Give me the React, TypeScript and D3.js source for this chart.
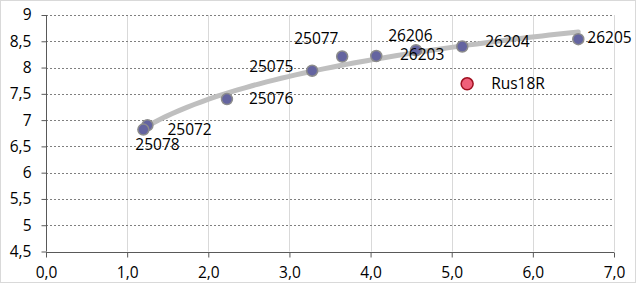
import {useEffect, useRef} from 'react';
import * as d3 from 'd3';

const labels = ['25072', '25078', '25076', '25075', '25077', '26206', '26203', '26204', '26205'];
const xValues = [1.25, 1.2, 2.23, 3.28, 3.65, 4.07, 4.56, 5.13, 6.56];
const yValues = [6.9, 6.82, 7.4, 7.94, 8.21, 8.22, 8.33, 8.4, 8.54];
// label offsets in px, relative to the point
const labelDx = [20, -8, 22, -63, -48, 12, -16, 23, 9];
const labelDy = [5, 16, 1, -3, -17, -19, 6, -4, 0];

const outlierLabel = 'Rus18R';
const outlierX = 5.19;
const outlierY = 7.69;

const xTicks = [0, 1, 2, 3, 4, 5, 6, 7];
const yTicks = [4.5, 5, 5.5, 6, 6.5, 7, 7.5, 8, 8.5, 9];

const W = 636;
const H = 283;
const FONT = '"Open Sans", sans-serif';
const FS = '15.5px';

export default function App() {
  const svgRef = useRef<SVGSVGElement>(null);

  useEffect(() => {
    if (!svgRef.current) return;
    const svg = d3.select(svgRef.current);
    svg.selectAll('*').remove();

    const x = d3.scaleLinear().domain([0, 7]).range([46, 614]);
    const y = d3.scaleLinear().domain([4.5, 9]).range([251.5, 15]);

    svg.append('rect').attr('width', W).attr('height', H).attr('fill', '#fff');
    svg
      .append('rect')
      .attr('x', 0.5)
      .attr('y', 0.5)
      .attr('width', W - 1)
      .attr('height', H - 1)
      .attr('fill', 'none')
      .attr('stroke', '#d9d9d9');

    // vertical grid
    svg
      .append('g')
      .selectAll('line')
      .data(xTicks.slice(1))
      .join('line')
      .attr('x1', (d) => Math.round(x(d)) + 0.5)
      .attr('x2', (d) => Math.round(x(d)) + 0.5)
      .attr('y1', y(9))
      .attr('y2', y(4.5))
      .attr('stroke', '#d9d9d9')
      .attr('stroke-width', 1);

    // horizontal dashed grid
    svg
      .append('g')
      .selectAll('line')
      .data(yTicks.slice(1))
      .join('line')
      .attr('x1', x(0))
      .attr('x2', x(7))
      .attr('y1', (d) => Math.round(y(d)) + 0.5)
      .attr('y2', (d) => Math.round(y(d)) + 0.5)
      .attr('stroke', '#7f7f7f')
      .attr('stroke-width', 1)
      .attr('stroke-dasharray', '2,2');

    // y axis
    const yAxis = svg
      .append('g')
      .attr('transform', `translate(${Math.round(x(0)) + 0.5},0)`)
      .call(
        d3
          .axisLeft(y)
          .tickValues(yTicks)
          .tickSize(5)
          .tickPadding(10)
          .tickFormat((d) => String(d).replace('.', ',')),
      );
    yAxis.select('.domain').attr('stroke', '#595959').attr('d', `M0,${y(9)}V${y(4.5)}`);
    yAxis.selectAll('.tick line').attr('stroke', '#595959');
    yAxis
      .selectAll('.tick text')
      .attr('fill', '#000')
      .style('font-family', FONT)
      .style('font-size', FS);

    // x axis
    const xAxis = svg
      .append('g')
      .attr('transform', `translate(0,${Math.round(y(4.5)) + 0.5})`)
      .call(
        d3
          .axisBottom(x)
          .tickValues(xTicks)
          .tickSize(5)
          .tickPadding(9)
          .tickFormat((d) => (d as number).toFixed(1).replace('.', ',')),
      );
    xAxis.select('.domain').attr('stroke', '#595959').attr('d', `M${x(0)},0H${x(7)}`);
    xAxis.selectAll('.tick line').attr('stroke', '#595959');
    xAxis
      .selectAll('.tick text')
      .attr('fill', '#000')
      .style('font-family', FONT)
      .style('font-size', FS);

    // logarithmic trend line (least squares on ln x)
    const lx = xValues.map((v) => Math.log(v));
    const mx = d3.mean(lx)!;
    const my = d3.mean(yValues)!;
    const b =
      d3.sum(lx, (v, i) => (v - mx) * (yValues[i] - my)) / d3.sum(lx, (v) => (v - mx) * (v - mx));
    const a = my - b * mx;
    const x0 = d3.min(xValues)!;
    const x1 = d3.max(xValues)!;
    const trend = d3.range(0, 61).map((i) => {
      const xv = x0 + ((x1 - x0) * i) / 60;
      return [xv, a + b * Math.log(xv)] as [number, number];
    });
    svg
      .append('path')
      .attr(
        'd',
        d3
          .line<[number, number]>()
          .x((d) => x(d[0]))
          .y((d) => y(d[1]))(trend),
      )
      .attr('fill', 'none')
      .attr('stroke', '#bfbfbf')
      .attr('stroke-width', 5)
      .attr('stroke-linecap', 'round');

    const pts = labels.map((l, i) => ({l, x: xValues[i], y: yValues[i], dx: labelDx[i], dy: labelDy[i]}));

    svg
      .append('g')
      .selectAll('circle')
      .data(pts)
      .join('circle')
      .attr('cx', (d) => x(d.x))
      .attr('cy', (d) => y(d.y))
      .attr('r', 5.5)
      .attr('fill', '#6464a0')
      .attr('stroke', '#8c8c8c')
      .attr('stroke-width', 1.5);

    svg
      .append('g')
      .selectAll('text')
      .data(pts)
      .join('text')
      .attr('x', (d) => x(d.x) + d.dx)
      .attr('y', (d) => y(d.y) + d.dy)
      .attr('dominant-baseline', 'middle')
      .style('font-family', FONT)
      .style('font-size', FS)
      .attr('fill', '#000')
      .text((d) => d.l);

    svg
      .append('circle')
      .attr('cx', x(outlierX))
      .attr('cy', y(outlierY))
      .attr('r', 6)
      .attr('fill', '#f0607a')
      .attr('stroke', '#a01020')
      .attr('stroke-width', 1.5);
    svg
      .append('text')
      .attr('x', x(outlierX) + 24)
      .attr('y', y(outlierY) + 1)
      .attr('dominant-baseline', 'middle')
      .style('font-family', FONT)
      .style('font-size', FS)
      .attr('fill', '#000')
      .text(outlierLabel);
  }, []);

  return (
    <svg
      ref={svgRef}
      width={W}
      height={H}
      style={{position: 'absolute', left: 0, top: 0, display: 'block'}}
    />
  );
}
